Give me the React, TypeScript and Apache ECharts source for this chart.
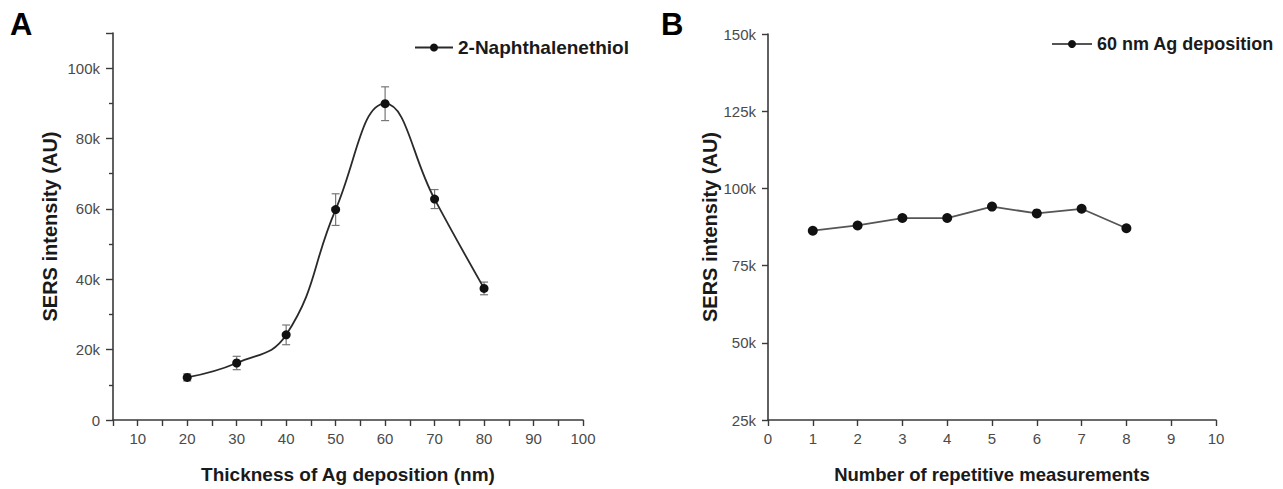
import React, { useEffect, useRef } from "react";
import * as echarts from "echarts";

const thicknessNm = [20, 30, 40, 50, 60, 70, 80];
const sersA = [12100, 16200, 24200, 59800, 89900, 62800, 37400];
const errA = [1000, 1900, 2800, 4500, 4800, 2700, 1800];

const measurementNo = [1, 2, 3, 4, 5, 6, 7, 8];
const sersB = [86300, 88000, 90400, 90400, 94100, 91900, 93400, 87100];

const FONT = "'Liberation Sans', Arial, Helvetica, sans-serif";
const AXIS_COLOR = "#3a3a3a";
const LABEL_COLOR = "#4a4a4a";

const kFmt = (v: number) => (v === 0 ? "0" : (v / 1000).toFixed(0) + "k");

export default function App() {
  const ref = useRef<HTMLDivElement>(null);
  useEffect(() => {
    if (!ref.current) return;
    const chart = echarts.init(ref.current, undefined, { renderer: "svg" });
    const errData = thicknessNm.map((x, i) => [x, sersA[i] - errA[i], sersA[i] + errA[i]]);
    const axisLine = { show: true, lineStyle: { color: AXIS_COLOR, width: 1.6 } };
    const titleStyle = { fontFamily: FONT, fontWeight: "bold", fontSize: 19, color: "#1a1a1a" };
    chart.setOption({
      animation: false,
      backgroundColor: "#ffffff",
      graphic: [
        { type: "text", left: 10, top: 9, style: { text: "A", font: `bold 31px ${FONT}`, fill: "#000" } },
        { type: "text", left: 661, top: 9, style: { text: "B", font: `bold 31px ${FONT}`, fill: "#000" } },
      ],
      legend: [
        {
          data: ["2-Naphthalenethiol"],
          left: 409,
          top: 33,
          itemWidth: 38,
          itemHeight: 10,
          itemGap: 4,
          textStyle: { fontFamily: FONT, fontWeight: "bold", fontSize: 19, color: "#1a1a1a" },
        },
        {
          data: ["60 nm Ag deposition"],
          left: 1046,
          top: 30,
          itemWidth: 40,
          itemHeight: 10,
          itemGap: 4,
          textStyle: { fontFamily: FONT, fontWeight: "bold", fontSize: 18, color: "#1a1a1a" },
        },
      ],
      grid: [
        { left: 113, top: 33, width: 470, height: 392 },
        { left: 768, top: 34, width: 448, height: 391 },
      ],
      xAxis: [
        {
          gridIndex: 0,
          type: "value",
          min: 5,
          max: 100,
          interval: 5,
          axisLine,
          axisTick: { show: true, length: 6, lineStyle: { color: AXIS_COLOR, width: 1.4 } },
          splitLine: { show: false },
          axisLabel: {
            color: LABEL_COLOR,
            fontFamily: FONT,
            fontSize: 15,
            margin: 11,
            formatter: (v: number) => (v % 10 === 0 ? String(v) : ""),
          },
          name: "Thickness of Ag deposition (nm)",
          nameLocation: "middle",
          nameGap: 45,
          nameTextStyle: titleStyle,
        },
        {
          gridIndex: 1,
          type: "value",
          min: 0,
          max: 10,
          interval: 1,
          axisLine,
          axisTick: { show: true, length: 6, lineStyle: { color: AXIS_COLOR, width: 1.4 } },
          splitLine: { show: false },
          axisLabel: { color: LABEL_COLOR, fontFamily: FONT, fontSize: 15, margin: 11 },
          name: "Number of repetitive measurements",
          nameLocation: "middle",
          nameGap: 45,
          nameTextStyle: { ...titleStyle, fontSize: 18.5 },
        },
      ],
      yAxis: [
        {
          gridIndex: 0,
          type: "value",
          min: 0,
          max: 110000,
          interval: 20000,
          axisLine,
          axisTick: { show: true, length: 7, lineStyle: { color: AXIS_COLOR, width: 1.4 } },
          minorTick: { show: true, splitNumber: 2, length: 4, lineStyle: { color: AXIS_COLOR, width: 1.4 } },
          splitLine: { show: false },
          axisLabel: {
            color: LABEL_COLOR,
            fontFamily: FONT,
            fontSize: 15,
            margin: 13,
            formatter: (v: number) => (v > 100000 ? "" : kFmt(v)),
          },
          name: "SERS intensity (AU)",
          nameLocation: "middle",
          nameRotate: 90,
          nameGap: 53,
          nameTextStyle: { ...titleStyle, fontSize: 20 },
        },
        {
          gridIndex: 1,
          type: "value",
          min: 25000,
          max: 150000,
          interval: 25000,
          axisLine,
          axisTick: { show: true, length: 6, lineStyle: { color: AXIS_COLOR, width: 1.4 } },
          splitLine: { show: false },
          axisLabel: { color: LABEL_COLOR, fontFamily: FONT, fontSize: 15, margin: 12, formatter: kFmt },
          name: "SERS intensity (AU)",
          nameLocation: "middle",
          nameRotate: 90,
          nameGap: 48,
          nameTextStyle: { ...titleStyle, fontSize: 20 },
        },
      ],
      series: [
        {
          name: "2-Naphthalenethiol",
          type: "line",
          xAxisIndex: 0,
          yAxisIndex: 0,
          smooth: 0.45,
          data: thicknessNm.map((x, i) => [x, sersA[i]]),
          symbol: "circle",
          symbolSize: 9,
          itemStyle: { color: "#111" },
          lineStyle: { color: "#2a2a2a", width: 1.8 },
          z: 3,
        },
        {
          name: "errA",
          type: "custom",
          xAxisIndex: 0,
          yAxisIndex: 0,
          data: errData,
          renderItem: (params: any, api: any) => {
            const x = api.value(0);
            const lo = api.coord([x, api.value(1)]);
            const hi = api.coord([x, api.value(2)]);
            const w = 4;
            const style = { stroke: "#777", lineWidth: 1.2 };
            return {
              type: "group",
              children: [
                { type: "line", shape: { x1: lo[0], y1: lo[1], x2: hi[0], y2: hi[1] }, style },
                { type: "line", shape: { x1: lo[0] - w, y1: lo[1], x2: lo[0] + w, y2: lo[1] }, style },
                { type: "line", shape: { x1: hi[0] - w, y1: hi[1], x2: hi[0] + w, y2: hi[1] }, style },
              ],
            };
          },
          z: 2,
        },
        {
          name: "60 nm Ag deposition",
          type: "line",
          xAxisIndex: 1,
          yAxisIndex: 1,
          data: measurementNo.map((x, i) => [x, sersB[i]]),
          symbol: "circle",
          symbolSize: 10,
          itemStyle: { color: "#111" },
          lineStyle: { color: "#555", width: 1.8 },
          z: 3,
        },
      ],
    });
    return () => chart.dispose();
  }, []);
  return (
    <div
      ref={ref}
      style={{ position: "fixed", left: 0, top: 0, width: 1283, height: 489, background: "#fff" }}
    />
  );
}
